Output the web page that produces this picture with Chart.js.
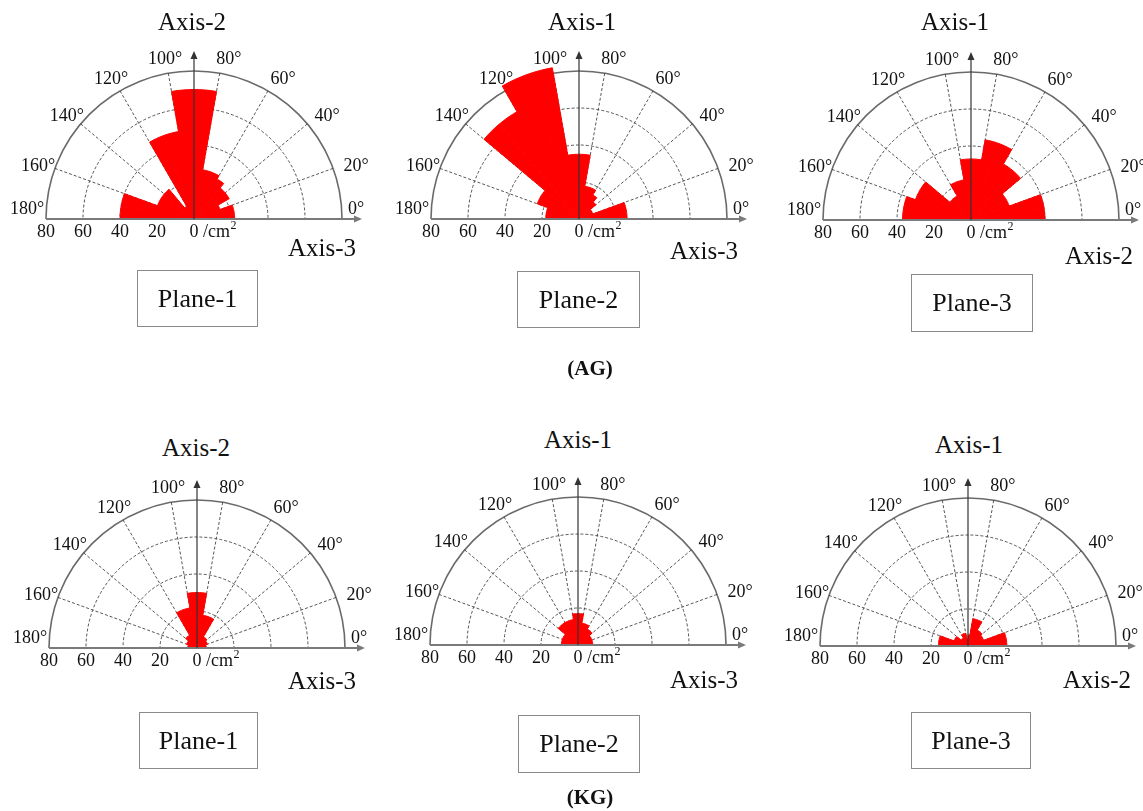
<!DOCTYPE html>
<html>
<head>
<meta charset="utf-8">
<script src="https://cdn.jsdelivr.net/npm/chart.js@4.4.1/dist/chart.umd.min.js"></script>
<style>
  html, body { margin: 0; padding: 0; background: #fff; }
  body { position: relative; width: 1143px; height: 811px; overflow: hidden; font-family: "Liberation Serif", "Times New Roman", serif; color: #111; }
  canvas { position: absolute; }
  .txt { position: absolute; transform: translate(-50%, -50%); white-space: nowrap; }
  .title { font-size: 25px; }
  .box { position: absolute; border: 1.5px solid #8a8a8a; box-sizing: border-box; display: flex; align-items: center; justify-content: center; font-size: 26px; }
  .group { font-size: 21px; font-weight: bold; }
</style>
</head>
<body>

<script>
// 10 degree bins, from 0-10 up to 170-180 degrees
const binStarts = [0, 10, 20, 30, 40, 50, 60, 70, 80, 90, 100, 110, 120, 130, 140, 150, 160, 170];
const degreeTicks = [0, 20, 40, 60, 80, 100, 120, 140, 160, 180];
const radialMax = 80;
const radialStep = 20;

// values in /cm2, same order as binStarts
const agPlane1 = [22, 22, 15, 22, 22, 25, 27, 27, 70, 70, 48, 48, 8, 21, 21, 21, 40, 40];
const agPlane2 = [26, 26, 8, 8, 12, 15, 18, 18, 35, 35, 83, 83, 67, 67, 24, 24, 18, 18];
const agPlane3 = [40, 40, 22, 22, 35, 35, 44, 44, 33, 33, 22, 22, 15, 15, 32, 32, 37, 37];
const kgPlane1 = [5, 5, 6, 6, 7, 7, 18, 18, 30, 30, 22, 22, 8, 8, 6, 6, 5, 5];
const kgPlane2 = [8, 8, 8, 8, 10, 10, 12, 12, 17, 17, 14, 14, 14, 14, 9, 9, 9, 9];
const kgPlane3 = [21, 21, 9, 9, 10, 10, 15, 15, 6, 4, 7, 7, 5, 5, 8, 8, 16, 16];

const panels = [
  { values: agPlane1, cx: 194, cy: 219, top: 'Axis-2', topX: 192, topY: 22, side: 'Axis-3', sideX: 322, sideY: 248, plane: 'Plane-1', box: [137, 270, 121, 57] },
  { values: agPlane2, cx: 579, cy: 219, top: 'Axis-1', topX: 582, topY: 22, side: 'Axis-3', sideX: 704, sideY: 251, plane: 'Plane-2', box: [517, 271, 123, 57] },
  { values: agPlane3, cx: 971, cy: 220, top: 'Axis-1', topX: 955, topY: 22, side: 'Axis-2', sideX: 1099, sideY: 256, plane: 'Plane-3', box: [911, 274, 122, 58] },
  { values: kgPlane1, cx: 197, cy: 648, top: 'Axis-2', topX: 196, topY: 448, side: 'Axis-3', sideX: 322, sideY: 681, plane: 'Plane-1', box: [139, 712, 119, 57] },
  { values: kgPlane2, cx: 578, cy: 645, top: 'Axis-1', topX: 578, topY: 440, side: 'Axis-3', sideX: 704, sideY: 680, plane: 'Plane-2', box: [518, 715, 122, 58] },
  { values: kgPlane3, cx: 968, cy: 646, top: 'Axis-1', topX: 969, topY: 445, side: 'Axis-2', sideX: 1097, sideY: 680, plane: 'Plane-3', box: [911, 712, 120, 57] }
];

const groups = [
  { text: '(AG)', x: 590, y: 368 },
  { text: '(KG)', x: 590, y: 797 }
];

// labels go clockwise from 180 deg; the lower half of the circle stays empty
const roseLabels = [];
for (let i = 0; i < 36; i++) {
  roseLabels.push(i < 18 ? (180 - 10 * i - 10) + '-' + (180 - 10 * i) + '°' : '');
}

const labelFont = '18px "Liberation Serif", "Times New Roman", serif';

function arrow(ctx, x, y, dir) {
  ctx.beginPath();
  if (dir === 'right') {
    ctx.moveTo(x, y); ctx.lineTo(x - 8, y - 3.5); ctx.lineTo(x - 8, y + 3.5);
  } else {
    ctx.moveTo(x, y); ctx.lineTo(x - 3.5, y + 8); ctx.lineTo(x + 3.5, y + 8);
  }
  ctx.closePath();
  ctx.fill();
}

const halfRose = {
  id: 'halfRose',
  beforeDraw(chart) {
    const r = chart.scales.r;
    const ctx = chart.ctx;
    ctx.save();
    ctx.beginPath();
    ctx.rect(0, 0, chart.width, r.yCenter);
    ctx.clip();
  },
  afterDraw(chart) {
    const r = chart.scales.r;
    const ctx = chart.ctx;
    ctx.restore();
    const cx = r.xCenter, cy = r.yCenter, R = r.drawingArea;

    // horizontal axis
    ctx.save();
    ctx.strokeStyle = '#7a7a7a';
    ctx.fillStyle = '#7a7a7a';
    ctx.lineWidth = 2;
    ctx.beginPath();
    ctx.moveTo(cx - R, cy);
    ctx.lineTo(cx + R + 18, cy);
    ctx.stroke();
    arrow(ctx, cx + R + 20, cy, 'right');

    // vertical axis
    ctx.strokeStyle = '#333';
    ctx.fillStyle = '#333';
    ctx.lineWidth = 1.2;
    ctx.beginPath();
    ctx.moveTo(cx, cy);
    ctx.lineTo(cx, cy - R - 16);
    ctx.stroke();
    arrow(ctx, cx, cy - R - 20, 'up');

    // degree labels
    ctx.fillStyle = '#111';
    ctx.font = labelFont;
    ctx.textBaseline = 'middle';
    ctx.textAlign = 'center';
    degreeTicks.forEach(a => {
      const i = (180 - a) / 10;
      if (a === 0) {
        const p = r.getPointPosition(i, R + 14);
        ctx.fillText(a + '°', p.x, p.y - 10);
      } else if (a === 180) {
        const p = r.getPointPosition(i, R + 19);
        ctx.fillText(a + '°', p.x, p.y - 10);
      } else {
        const p = r.getPointPosition(i, R + 18);
        ctx.fillText(a + '°', p.x + (a < 90 ? 6 : 0), p.y + 4);
      }
    });

    // radial tick labels along the baseline
    ctx.textBaseline = 'top';
    ctx.textAlign = 'center';
    r.ticks.forEach(t => {
      const d = r.getDistanceFromCenterForValue(t.value);
      if (t.value === 0) {
        ctx.fillText('0', cx, cy + 4);
        ctx.textAlign = 'left';
        ctx.fillText('/cm', cx + 9, cy + 4);
        const w = ctx.measureText('/cm').width;
        ctx.font = '12px "Liberation Serif", serif';
        ctx.fillText('2', cx + 9 + w + 0.5, cy + 1);
        ctx.font = labelFont;
        ctx.textAlign = 'center';
      } else {
        ctx.fillText(t.label, cx - d, cy + 4);
      }
    });
    ctx.restore();
  }
};

function addText(cls, text, x, y) {
  const d = document.createElement('div');
  d.className = 'txt ' + cls;
  d.style.left = x + 'px';
  d.style.top = y + 'px';
  d.textContent = text;
  document.body.appendChild(d);
}

panels.forEach(pn => {
  const cv = document.createElement('canvas');
  cv.width = 370;
  cv.height = 345;
  cv.style.left = (pn.cx - 188) + 'px';
  cv.style.top = (pn.cy - 185) + 'px';
  document.body.appendChild(cv);

  new Chart(cv, {
    type: 'polarArea',
    data: {
      labels: roseLabels,
      datasets: [{
        data: pn.values.slice().reverse(),
        angle: 10,
        backgroundColor: '#ff0000',
        borderColor: '#ff0000',
        borderWidth: 1,
        clip: false
      }]
    },
    options: {
      responsive: false,
      animation: false,
      layout: { padding: { left: 40, right: 34, top: 37, bottom: 12 } },
      plugins: { legend: { display: false }, tooltip: { enabled: false } },
      scales: {
        r: {
          min: 0,
          max: radialMax,
          startAngle: -90,
          z: 1,
          ticks: { display: false, stepSize: radialStep },
          pointLabels: { display: false },
          grid: {
            circular: true,
            color: c => (c.tick && c.tick.value === radialMax) ? '#6a6a6a' : '#444',
            lineWidth: c => (c.tick && c.tick.value === radialMax) ? 1.6 : 0.9
          },
          border: { dash: c => (c.tick && c.tick.value === radialMax) ? [] : [3, 2] },
          angleLines: {
            display: true,
            color: c => (c.index % 2 === 0 && c.index > 0 && c.index < 18) ? '#444' : 'rgba(0,0,0,0)',
            lineWidth: 0.9,
            borderDash: [3, 2]
          }
        }
      }
    },
    plugins: [halfRose]
  });

  addText('title', pn.top, pn.topX, pn.topY);
  addText('title', pn.side, pn.sideX, pn.sideY);

  const b = document.createElement('div');
  b.className = 'box';
  b.style.left = pn.box[0] + 'px';
  b.style.top = pn.box[1] + 'px';
  b.style.width = pn.box[2] + 'px';
  b.style.height = pn.box[3] + 'px';
  b.textContent = pn.plane;
  document.body.appendChild(b);
});

groups.forEach(g => addText('group', g.text, g.x, g.y));
</script>
</body>
</html>
